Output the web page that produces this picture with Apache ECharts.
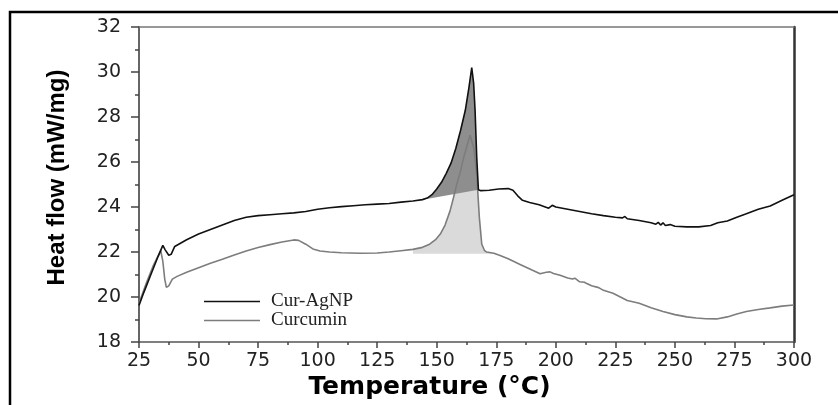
<!DOCTYPE html>
<html>
<head>
<meta charset="utf-8">
<script src="https://cdn.jsdelivr.net/npm/echarts@6/dist/echarts.min.js"></script>
<style>
  html, body { margin: 0; padding: 0; background: #fff; }
  #chart { width: 838px; height: 405px; }
</style>
</head>
<body>
<div id="chart"></div>
<script>
// DSC heat-flow curves, [temperature °C, heat flow mW/mg]
const curAgNP = [
  [25, 19.63], [27, 20.2], [30, 21.0], [33, 21.8], [35, 22.3], [36, 22.1], [37.5, 21.86], [38.5, 21.9],
  [40, 22.25], [45, 22.55], [50, 22.8], [55, 23.0], [60, 23.2], [65, 23.4], [70, 23.55], [75, 23.62],
  [80, 23.66], [85, 23.7], [90, 23.74], [95, 23.8], [100, 23.9], [105, 23.97], [110, 24.02], [115, 24.06],
  [120, 24.1], [125, 24.13], [130, 24.16], [135, 24.22], [140, 24.27], [144, 24.33], [146, 24.4],
  [148, 24.55], [150, 24.8], [152, 25.1], [154, 25.5], [156, 25.95], [158, 26.6], [160, 27.4],
  [162, 28.3], [163.5, 29.3], [164.7, 30.2], [165.5, 29.5], [166.1, 28.3], [166.8, 26.2], [167.5, 24.77],
  [168.5, 24.73], [172, 24.75], [176, 24.8], [180, 24.82], [182, 24.75], [184, 24.5], [186, 24.3],
  [189, 24.2], [193, 24.1], [197, 23.95], [198.5, 24.08], [200, 24.0], [205, 23.9], [210, 23.8],
  [215, 23.7], [220, 23.62], [225, 23.55], [228, 23.52], [229, 23.58], [230, 23.48], [235, 23.4],
  [240, 23.3], [242, 23.24], [243, 23.32], [244, 23.2], [245, 23.3], [246, 23.18], [248, 23.22],
  [250, 23.15], [255, 23.12], [260, 23.12], [265, 23.18], [268, 23.3], [272, 23.38], [276, 23.55],
  [280, 23.7], [285, 23.9], [290, 24.05], [295, 24.3], [300, 24.55]
];
const curcumin = [
  [25, 19.72], [28, 20.6], [31, 21.4], [34.1, 22.07], [35, 21.6], [35.8, 20.8], [36.5, 20.43], [37.5, 20.5],
  [39, 20.8], [41, 20.92], [45, 21.1], [50, 21.3], [55, 21.5], [60, 21.68], [65, 21.87], [70, 22.05],
  [75, 22.2], [80, 22.33], [85, 22.45], [90, 22.54], [92, 22.52], [95, 22.35], [98, 22.14], [101, 22.05],
  [105, 22.0], [110, 21.97], [118, 21.95], [125, 21.96], [130, 22.0], [135, 22.06], [140, 22.12],
  [144, 22.21], [147, 22.35], [149.5, 22.55], [151.5, 22.8], [153.5, 23.2], [155.6, 23.83], [157, 24.4],
  [158.4, 25.0], [160, 25.6], [161.2, 26.16], [162.5, 26.65], [164, 27.19], [164.7, 27.26], [165.6, 26.6],
  [166.8, 25.43], [167.9, 23.53], [168.9, 22.36], [170, 22.08], [171, 22.0], [174, 21.95], [176.6, 21.85],
  [180, 21.7], [185, 21.45], [190, 21.2], [193.4, 21.04], [196, 21.1], [197.6, 21.12], [199, 21.05],
  [201.8, 20.97], [205, 20.85], [207, 20.8], [208, 20.84], [210, 20.68], [212, 20.66], [213, 20.6],
  [215, 20.5], [218, 20.42], [220, 20.3], [224, 20.17], [230, 19.85], [235, 19.73], [240, 19.53],
  [245, 19.36], [250, 19.22], [255, 19.12], [259, 19.07], [263, 19.04], [267.5, 19.03], [272, 19.12],
  [276, 19.25], [280, 19.36], [285, 19.45], [290, 19.52], [295, 19.6], [300, 19.65]
];

// Integration windows of the melting endotherms
const agnpPeakRange = [144, 167.5];
const curcuminPeakRange = [140, 174];
const curcuminBaseline = 21.93;

const seriesNames = ['Cur-AgNP', 'Curcumin'];
const xTicks = { min: 25, max: 300, step: 25 };
const yTicks = { min: 18, max: 32, step: 2 };

function within(points, range) {
  return points.filter(p => p[0] >= range[0] && p[0] <= range[1]);
}

// Shaded polygon: curve segment closed by a straight baseline
function peakFill(points, color, z) {
  return {
    type: 'custom',
    silent: true,
    z: z,
    data: points,
    encode: { x: 0, y: 1 },
    renderItem: function (params, api) {
      if (params.dataIndex !== 0) return;
      const pts = points.map(p => api.coord(p));
      return { type: 'polygon', shape: { points: pts }, style: { fill: color } };
    }
  };
}

const agnpFillPts = within(curAgNP, agnpPeakRange);
const curFillCurve = within(curcumin, curcuminPeakRange);
const curFillPts = [[curcuminPeakRange[0], curcuminBaseline]]
  .concat(curFillCurve)
  .concat([[curcuminPeakRange[1], curcuminBaseline]]);

const chart = echarts.init(document.getElementById('chart'), null, { renderer: 'canvas' });

chart.setOption({
  animation: false,
  backgroundColor: '#fff',
  grid: { left: 139, right: 44, top: 27, bottom: 59 },
  graphic: [{
    type: 'rect',
    silent: true,
    shape: { x: 10, y: 12, width: 900, height: 500 },
    style: { fill: 'none', stroke: '#000', lineWidth: 2.5 }
  }],
  legend: {
    data: seriesNames,
    orient: 'vertical',
    left: 199,
    top: 287,
    icon: 'rect',
    itemWidth: 56,
    itemHeight: 1.6,
    itemGap: 0,
    textStyle: { fontFamily: 'Liberation Serif', fontSize: 19, lineHeight: 19, color: '#222', padding: [0, 0, 0, 6] }
  },
  xAxis: [{
    type: 'value',
    min: xTicks.min, max: xTicks.max, interval: xTicks.step,
    splitLine: { show: false },
    axisLine: { onZero: false, lineStyle: { color: '#555', width: 1.5 } },
    axisTick: { length: 6, lineStyle: { color: '#444', width: 1.5 } },
    minorTick: { show: true, splitNumber: 2, length: 3, lineStyle: { color: '#444', width: 1.5 } },
    axisLabel: { fontFamily: 'DejaVu Sans', fontSize: 19, color: '#222', margin: 9 },
    name: 'Temperature (°C)',
    nameLocation: 'middle',
    nameGap: 26,
    nameTextStyle: { fontFamily: 'DejaVu Sans', fontWeight: 'bold', fontSize: 25, color: '#000', padding: [0, 74, 0, 0] }
  }, {
    type: 'value', position: 'top',
    min: xTicks.min, max: xTicks.max,
    axisLine: { show: true, lineStyle: { color: '#777', width: 1.5 } },
    axisTick: { show: false }, axisLabel: { show: false }, splitLine: { show: false }
  }],
  yAxis: [{
    type: 'value',
    min: yTicks.min, max: yTicks.max, interval: yTicks.step,
    splitLine: { show: false },
    axisLine: { show: true, onZero: false, lineStyle: { color: '#666', width: 2 } },
    axisTick: { show: true, length: 8, lineStyle: { color: '#444', width: 1.5 } },
    minorTick: { show: true, splitNumber: 2, length: 4, lineStyle: { color: '#444', width: 1.5 } },
    axisLabel: { fontFamily: 'DejaVu Sans', fontSize: 19, color: '#222', margin: 18 },
    name: 'Heat flow (mW/mg)',
    nameLocation: 'middle',
    nameGap: 70,
    nameTextStyle: { fontFamily: 'Liberation Sans', fontWeight: 'bold', fontSize: 24, color: '#000', padding: [0, 0, 0, 14] }
  }, {
    type: 'value', position: 'right',
    min: yTicks.min, max: yTicks.max,
    axisLine: { show: true, lineStyle: { color: '#333', width: 2.5 } },
    axisTick: { show: false }, axisLabel: { show: false }, splitLine: { show: false }
  }],
  series: [
    peakFill(curFillPts, '#dadada', 1),
    peakFill(agnpFillPts, '#8e8e8e', 2),
    {
      name: seriesNames[1],
      type: 'line',
      data: curcumin,
      symbol: 'none',
      z: 3,
      lineStyle: { color: '#7d7d7d', width: 1.6 },
      itemStyle: { color: '#7d7d7d' }
    },
    {
      name: seriesNames[0],
      type: 'line',
      data: curAgNP,
      symbol: 'none',
      z: 4,
      lineStyle: { color: '#111', width: 1.6 },
      itemStyle: { color: '#111' }
    }
  ]
});
</script>
</body>
</html>
